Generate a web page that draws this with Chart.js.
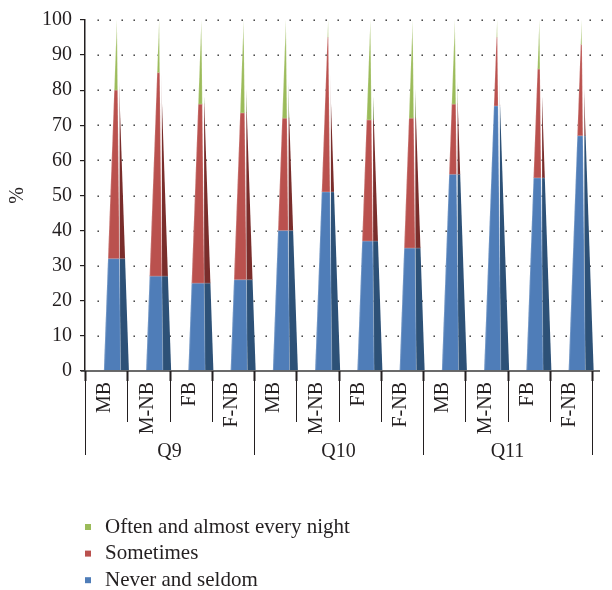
<!DOCTYPE html>
<html>
<head>
<meta charset="utf-8">
<script src="https://cdn.jsdelivr.net/npm/chart.js@4/dist/chart.umd.min.js"></script>
<style>
  body { margin: 0; background: #fff; }
  canvas { display: block; }
</style>
</head>
<body>
<canvas id="sleepChart" width="612" height="590"></canvas>
<script>
// categories along the x axis, grouped by question
const categories = ['MB', 'M-NB', 'FB', 'F-NB', 'MB', 'M-NB', 'FB', 'F-NB', 'MB', 'M-NB', 'FB', 'F-NB'];
const groups = ['Q9', 'Q10', 'Q11'];

// percentages
const neverSeldom = [32, 27, 25, 26, 40, 51, 37, 35, 56, 75.5, 55, 67];
const sometimes = [48, 58, 51, 47.5, 32, 44, 34.5, 37, 20, 19.5, 31, 26];
const oftenNightly = [20, 15, 24, 26.5, 28, 5, 28.5, 28, 24, 5, 14, 7];

const seriesNames = ['Never and seldom', 'Sometimes', 'Often and almost every night'];
const lightColors = ['#4f7db8', '#ba514e', '#9bbb59'];
const darkColors = ['#2d5177', '#7a2d2b', '#5d792b'];

const yMin = 0, yMax = 100, yStep = 10;
const textColor = '#231f20';
const serif = '"Liberation Serif", "DejaVu Serif", serif';

// draws each stack as a pyramid, plus the category/group axis and legend
const pyramidPlugin = {
    id: 'pyramids',
    beforeDatasetDraw() {
        return false;
    },
    afterDatasetsDraw(chart) {
        const ctx = chart.ctx;
        const xs = chart.scales.x, ys = chart.scales.y;
        const area = chart.chartArea;
        const step = xs.getPixelForValue(1) - xs.getPixelForValue(0);
        const metas = chart.data.datasets.map((d, i) => chart.getDatasetMeta(i));

        // dotted grid
        ctx.save();
        ctx.fillStyle = '#222';
        ys.ticks.forEach(t => {
            if (t.value === 0) return;
            const py = Math.round(ys.getPixelForValue(t.value));
            for (let px = area.left + 12.5; px < area.right + 12; px += 12) {
                ctx.fillRect(px, py - 0.5, 1.4, 1.4);
            }
        });
        ctx.restore();

        for (let i = 0; i < chart.data.labels.length; i++) {
            const first = metas[0].data[i];
            const cx = first.x + step * 0.255;
            const base = first.base;
            const apex = metas[metas.length - 1].data[i].y;
            const left = cx - step * 0.308, ridge = cx + step * 0.088, right = cx + step * 0.284;
            [[left, ridge, lightColors], [ridge, right, darkColors]].forEach(([a, b, cols]) => {
                ctx.save();
                ctx.beginPath();
                ctx.moveTo(a, base);
                ctx.lineTo(b, base);
                ctx.lineTo(cx, apex);
                ctx.closePath();
                ctx.clip();
                metas.forEach((m, k) => {
                    const el = m.data[i];
                    ctx.fillStyle = cols[k];
                    ctx.fillRect(a - 1, el.y - 0.5, b - a + 2, el.base - el.y + 0.5);
                });
                // segment borders
                ctx.fillStyle = 'rgba(255,255,255,0.25)';
                metas.forEach((m, k) => {
                    if (k === 0) return;
                    ctx.fillRect(a - 1, m.data[i].base - 0.5, b - a + 2, 1);
                });
                // fade toward the tip
                const g = ctx.createLinearGradient(0, apex, 0, apex + 28);
                g.addColorStop(0, 'rgba(255,255,255,0.6)');
                g.addColorStop(1, 'rgba(255,255,255,0)');
                ctx.fillStyle = g;
                ctx.fillRect(a - 1, apex, b - a + 2, 28);
                ctx.restore();
            });
            ctx.save();
            ctx.strokeStyle = 'rgba(255,255,255,0.2)';
            ctx.lineWidth = 1;
            ctx.beginPath();
            ctx.moveTo(ridge, base);
            ctx.lineTo(cx, apex);
            ctx.moveTo(left + 0.5, base);
            ctx.lineTo(cx, apex);
            ctx.stroke();
            ctx.restore();
        }
    },
    afterDraw(chart) {
        const ctx = chart.ctx;
        const xs = chart.scales.x;
        const area = chart.chartArea;
        const step = xs.getPixelForValue(1) - xs.getPixelForValue(0);
        const bottom = area.bottom;
        const perGroup = categories.length / groups.length;
        const start = xs.getPixelForValue(0) - step / 2;

        ctx.save();
        // x axis line
        ctx.strokeStyle = '#3a3a3a';
        ctx.lineWidth = 1.5;
        ctx.beginPath();
        ctx.moveTo(area.left - 4, bottom);
        ctx.lineTo(area.right + 8, bottom);
        ctx.stroke();

        // dividers
        for (let i = 0; i <= categories.length; i++) {
            const px = Math.round(start + i * step) + 0.5;
            const isGroup = i % perGroup === 0;
            ctx.strokeStyle = textColor;
            ctx.lineWidth = 1;
            ctx.beginPath();
            ctx.moveTo(px, bottom);
            ctx.lineTo(px, bottom + (isGroup ? 84 : 51));
            ctx.stroke();
            ctx.lineWidth = 2;
            ctx.beginPath();
            ctx.moveTo(px, bottom);
            ctx.lineTo(px, bottom + 10);
            ctx.stroke();
        }

        // category labels, rotated
        ctx.fillStyle = textColor;
        ctx.font = '20px ' + serif;
        categories.forEach((label, i) => {
            const px = xs.getPixelForValue(i);
            ctx.save();
            ctx.translate(px - 1, bottom + 11);
            ctx.rotate(-Math.PI / 2);
            ctx.textAlign = 'right';
            ctx.textBaseline = 'middle';
            ctx.fillText(label, 0, 0);
            ctx.restore();
        });

        // group labels
        ctx.textAlign = 'center';
        ctx.textBaseline = 'middle';
        groups.forEach((g, j) => {
            const gx = start + (j + 0.5) * perGroup * step;
            ctx.fillText(g, gx, bottom + 81);
        });

        // legend, top series first
        ctx.textAlign = 'left';
        ctx.font = '21px ' + serif;
        const order = [2, 1, 0];
        order.forEach((k, r) => {
            const ly = 527 + r * 26.6;
            ctx.fillStyle = lightColors[k];
            ctx.fillRect(85, ly - 3, 6, 6);
            ctx.fillStyle = textColor;
            ctx.fillText(seriesNames[k], 105, ly);
        });
        ctx.restore();
    }
};

const ctx = document.getElementById('sleepChart').getContext('2d');
new Chart(ctx, {
    type: 'bar',
    data: {
        labels: categories,
        datasets: [
            { label: seriesNames[0], data: neverSeldom, backgroundColor: lightColors[0] },
            { label: seriesNames[1], data: sometimes, backgroundColor: lightColors[1] },
            { label: seriesNames[2], data: oftenNightly, backgroundColor: lightColors[2] }
        ]
    },
    options: {
        responsive: false,
        animation: false,
        layout: { padding: { top: 20, right: 20, left: 0, bottom: 0 } },
        plugins: {
            legend: { display: false },
            tooltip: { enabled: false }
        },
        scales: {
            x: {
                stacked: true,
                grid: { display: false },
                border: { display: false },
                ticks: { display: false },
                afterFit: s => { s.height = 219; }
            },
            y: {
                stacked: true,
                min: yMin,
                max: yMax,
                ticks: {
                    stepSize: yStep,
                    color: textColor,
                    padding: 8,
                    font: { family: serif, size: 20 }
                },
                grid: { drawOnChartArea: false, drawTicks: true, tickLength: 5, color: textColor, lineWidth: 1.2 },
                border: { color: textColor, width: 1.5 },
                title: {
                    display: true,
                    text: '%',
                    color: textColor,
                    padding: { top: 6, bottom: 0 },
                    font: { family: serif, size: 20 }
                },
                afterFit: s => { s.width = 85; }
            }
        }
    },
    plugins: [pyramidPlugin]
});
</script>
</body>
</html>
